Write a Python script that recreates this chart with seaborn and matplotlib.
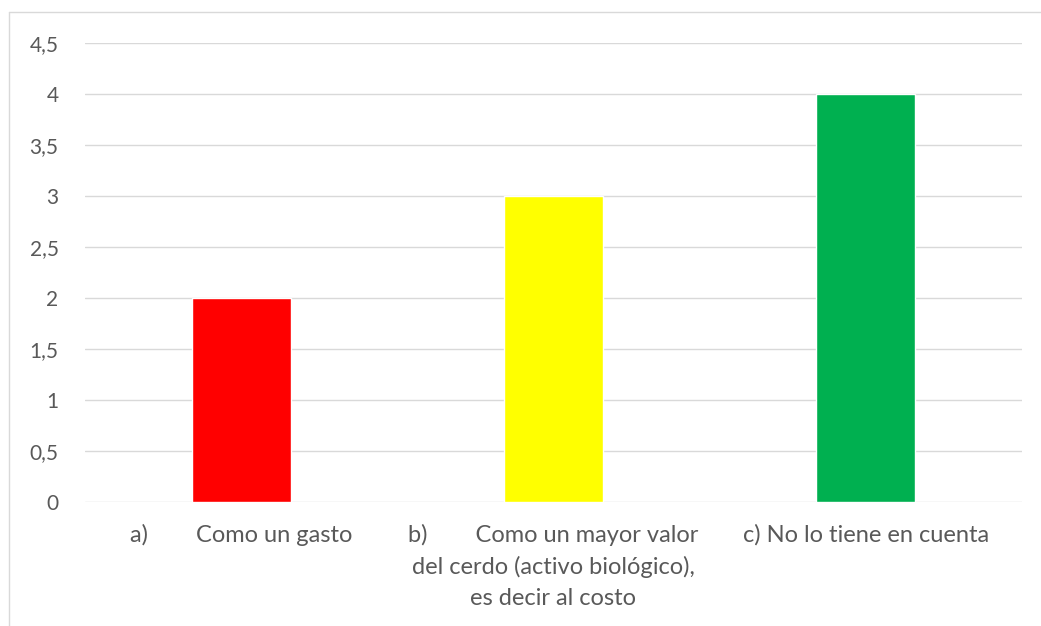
import matplotlib
matplotlib.use("Agg")
import matplotlib.pyplot as plt
import seaborn as sns
import pandas as pd
from matplotlib.lines import Line2D
from matplotlib.ticker import FuncFormatter

categories = [
    "a)        Como un gasto",
    "b)        Como un mayor valor\ndel cerdo (activo biológico),\nes decir al costo",
    "c) No lo tiene en cuenta",
]
values = [2, 3, 4]
colors = ["#FF0000", "#FFFF00", "#00B050"]
yticks = [0, 0.5, 1, 1.5, 2, 2.5, 3, 3.5, 4, 4.5]

df = pd.DataFrame({"cat": categories, "val": values})

sns.set_style("white")
plt.rcParams["font.family"] = ["Lato", "DejaVu Sans"]

fig = plt.figure(figsize=(10.41, 6.26), dpi=100)
W, H = 1041, 626
ax = fig.add_axes([85 / W, 1 - 502 / H, (1022 - 85) / W, (502 - 43) / H])

sns.barplot(data=df, x="cat", y="val", hue="cat", palette=colors,
            width=0.317, legend=False, ax=ax, saturation=1)

ax.set_ylim(0, 4.5)
ax.set_xlim(-0.5, 2.5)
ax.set_yticks(yticks)
ax.yaxis.set_major_formatter(FuncFormatter(lambda v, p: (f"{v:g}").replace(".", ",")))
ax.grid(axis="y", color="#D9D9D9", linewidth=1)
ax.set_axisbelow(True)
for s in ax.spines.values():
    s.set_visible(False)
ax.tick_params(axis="both", length=0, colors="#595959")
ax.tick_params(axis="x", pad=16, labelsize=17)
ax.tick_params(axis="y", pad=19, labelsize=15)
ax.set_xlabel("")
ax.set_ylabel("")
for lbl in ax.get_xticklabels():
    lbl.set_ha("center")
    lbl.set_multialignment("center")
    lbl.set_linespacing(1.55)

# outer chart frame
fig.add_artist(Line2D([9 / W, 9 / W], [1 - 12 / H, 0], color="#D9D9D9", lw=1, transform=fig.transFigure))
fig.add_artist(Line2D([9 / W, 1], [1 - 12 / H, 1 - 12 / H], color="#D9D9D9", lw=1, transform=fig.transFigure))

fig.savefig("out.png", dpi=100)
